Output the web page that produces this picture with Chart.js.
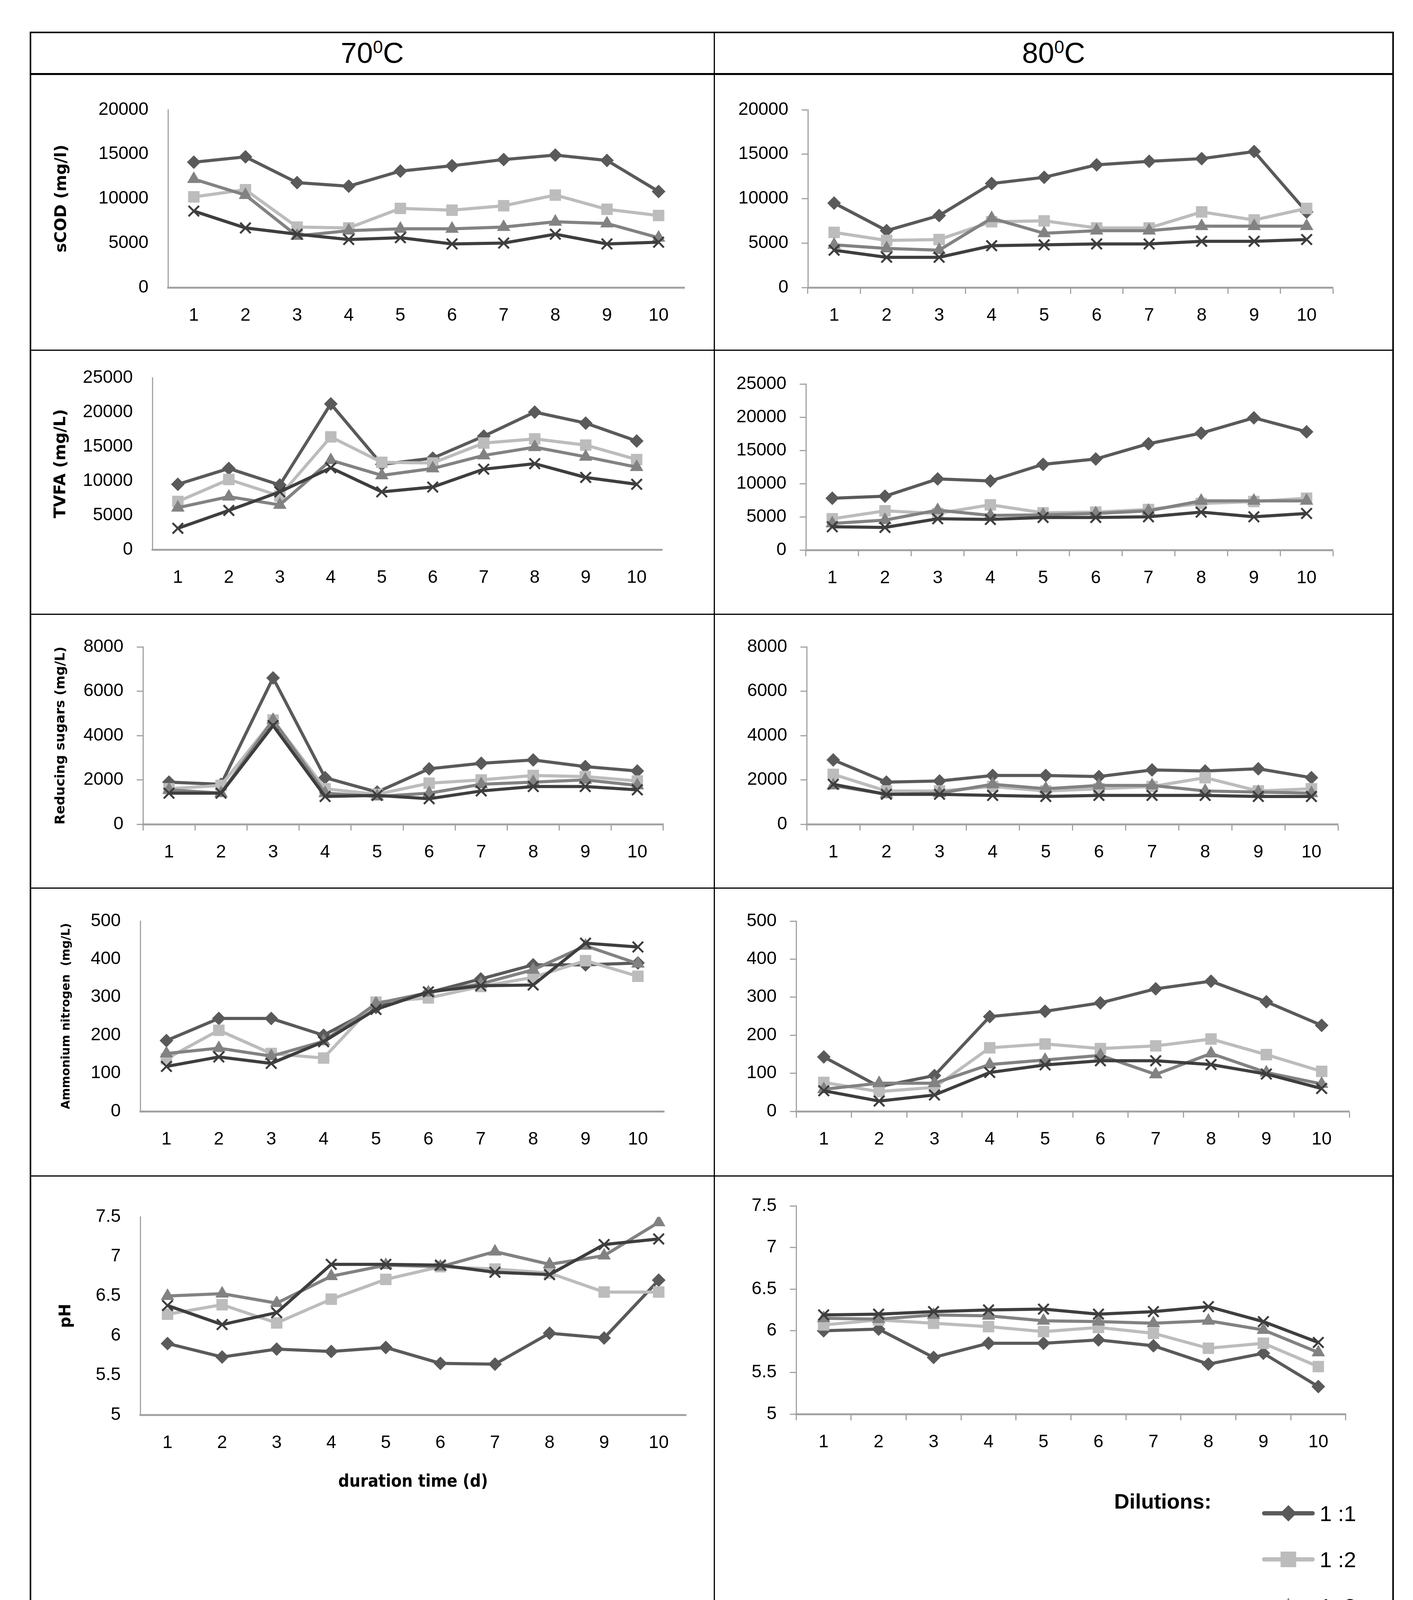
<!DOCTYPE html>
<html>
<head>
<meta charset="utf-8">
<script src="https://cdn.jsdelivr.net/npm/chart.js@4.4.1/dist/chart.umd.min.js"></script>
<style>
  html, body { margin: 0; padding: 0; background: #fff; }
  #page { position: relative; width: 3617px; height: 4337px; overflow: hidden; background: #fff; }
  .rule { position: absolute; background: #000; }
  .head {
    position: absolute; top: 83px; height: 106px; line-height: 106px;
    text-align: center; font-family: 'Liberation Sans', Arial, sans-serif; font-size: 74px; color: #000;
  }
  .head sup { font-size: 0.62em; vertical-align: 0.55em; line-height: 0; }
  canvas { position: absolute; }
  .legend-title {
    position: absolute; font-family: 'Liberation Sans', Arial, sans-serif; font-weight: bold;
    font-size: 54px; line-height: 60px; color: #000;
  }
  .legend-item { position: absolute; height: 60px; display: flex; align-items: center; }
  .legend-item span {
    font-family: 'Liberation Sans', Arial, sans-serif; font-size: 56px; color: #000; margin-left: 12px;
  }
</style>
</head>
<body>
<div id="page">
  <div class="head" style="left:78px; width:1750px;">70<sup>0</sup>C</div>
  <div class="head" style="left:1828px; width:1738px;">80<sup>0</sup>C</div>
</div>
<script>
// ---------- data ----------
const DAYS = ['1', '2', '3', '4', '5', '6', '7', '8', '9', '10']
const DILUTIONS = ['1 :1', '1 :2', '1 :3', '1 :4']

// rows: 1:1, 1:2, 1:3, 1:4
const SCOD_70 = [
  [14100, 14700, 11800, 11400, 13100, 13700, 14400, 14900, 14300, 10800],
  [10200, 11000, 6800, 6700, 8900, 8700, 9200, 10400, 8800, 8100],
  [12200, 10400, 5800, 6400, 6600, 6600, 6800, 7400, 7200, 5600],
  [8600, 6700, 6000, 5400, 5600, 4900, 5000, 6000, 4900, 5100]
]
const SCOD_80 = [
  [9500, 6400, 8100, 11700, 12400, 13800, 14200, 14500, 15300, 8500],
  [6200, 5300, 5400, 7400, 7500, 6700, 6700, 8500, 7600, 8900],
  [4800, 4400, 4200, 7800, 6100, 6400, 6400, 6900, 6900, 6900],
  [4200, 3400, 3400, 4700, 4800, 4900, 4900, 5200, 5200, 5400]
]
const TVFA_70 = [
  [9500, 11800, 9400, 21200, 12400, 13300, 16500, 20000, 18400, 15800],
  [7000, 10200, 7800, 16400, 12700, 12600, 15500, 16100, 15200, 13100],
  [6100, 7700, 6500, 13000, 10800, 11800, 13700, 14900, 13500, 12000],
  [3100, 5700, 8400, 11900, 8400, 9100, 11700, 12500, 10500, 9500]
]
const TVFA_80 = [
  [7800, 8100, 10700, 10400, 12900, 13700, 16000, 17600, 19900, 17800],
  [4700, 5900, 5500, 6800, 5600, 5700, 6100, 7000, 7300, 7800],
  [4000, 4500, 6000, 5200, 5300, 5500, 5900, 7400, 7400, 7400],
  [3500, 3400, 4700, 4600, 4900, 4900, 5000, 5700, 5000, 5500]
]
const SUGARS_70 = [
  [1900, 1800, 6600, 2100, 1450, 2500, 2750, 2900, 2600, 2400],
  [1600, 1750, 4700, 1600, 1350, 1850, 2000, 2200, 2150, 1950],
  [1550, 1400, 4700, 1400, 1250, 1400, 1800, 1900, 2000, 1750],
  [1400, 1400, 4450, 1250, 1300, 1150, 1500, 1700, 1700, 1550]
]
const SUGARS_80 = [
  [2900, 1900, 1950, 2200, 2200, 2150, 2450, 2400, 2500, 2100],
  [2250, 1500, 1500, 1700, 1500, 1600, 1700, 2100, 1500, 1600],
  [1750, 1350, 1400, 1800, 1600, 1750, 1750, 1500, 1450, 1400],
  [1800, 1350, 1350, 1300, 1250, 1300, 1300, 1300, 1250, 1250]
]
const AMMONIUM_70 = [
  [186, 244, 244, 200, 273, 312, 348, 385, 385, 390],
  [138, 213, 152, 140, 287, 298, 328, 352, 396, 355],
  [152, 166, 145, 184, 283, 312, 335, 372, 435, 388],
  [118, 143, 126, 183, 268, 314, 330, 332, 442, 432]
]
const AMMONIUM_80 = [
  [143, 65, 94, 249, 263, 285, 322, 342, 288, 226],
  [76, 52, 63, 167, 177, 165, 172, 190, 149, 105],
  [58, 74, 74, 123, 135, 147, 97, 152, 102, 72],
  [54, 27, 43, 102, 122, 133, 133, 123, 98, 60]
]
const PH_70 = [
  [5.9, 5.73, 5.83, 5.8, 5.85, 5.65, 5.64, 6.03, 5.97, 6.7],
  [6.27, 6.39, 6.16, 6.46, 6.71, 6.87, 6.84, 6.79, 6.55, 6.55],
  [6.5, 6.53, 6.41, 6.75, 6.89, 6.87, 7.06, 6.9, 7.01, 7.43],
  [6.38, 6.14, 6.29, 6.9, 6.9, 6.89, 6.8, 6.77, 7.15, 7.22]
]
const PH_80 = [
  [6.0, 6.02, 5.68, 5.85, 5.85, 5.89, 5.82, 5.6, 5.73, 5.33],
  [6.07, 6.13, 6.09, 6.05, 5.99, 6.04, 5.97, 5.79, 5.85, 5.57],
  [6.15, 6.14, 6.19, 6.18, 6.12, 6.11, 6.09, 6.12, 6.01, 5.74],
  [6.19, 6.2, 6.23, 6.25, 6.26, 6.2, 6.23, 6.29, 6.11, 5.86]
]

// ---------- styling ----------
const SERIES_COLORS = ['#5a5a5a', '#bcbcbc', '#828282', '#3e3e3e']
const POINT_STYLES = ['rectRot', 'rect', 'triangle', 'crossRot']
const POINT_RADII = [17, 20, 19, 19]
const AXIS_GRAY = '#a3a3a3'
const TICK_FONT = { family: "'Liberation Sans', Arial, sans-serif", size: 46 }
const TITLE_FAMILY = "'DejaVu Sans', Verdana, sans-serif"

const LEFT = { l: 80, r: 1826 }
const RIGHT = { l: 1830, r: 3562 }
const ROWS = [
  { t: 191, b: 894 },
  { t: 898, b: 1570 },
  { t: 1574, b: 2271 },
  { t: 2275, b: 3008 },
  { t: 3012, b: 4296 }
]

const PANELS = [
  { data: SCOD_70, col: LEFT, row: 0, min: 0, max: 20000, step: 5000, marks: false,
    area: { l: 430, t: 281, r: 1752, b: 736 }, yTitle: 'sCOD (mg/l)', yTitleSize: 41, yTitleX: 158 },
  { data: SCOD_80, col: RIGHT, row: 0, min: 0, max: 20000, step: 5000, marks: true,
    area: { l: 2068, t: 281, r: 3412, b: 736 } },
  { data: TVFA_70, col: LEFT, row: 1, min: 0, max: 25000, step: 5000, marks: false,
    area: { l: 390, t: 967, r: 1695, b: 1407 }, yTitle: 'TVFA (mg/L)', yTitleSize: 41, yTitleX: 156 },
  { data: TVFA_80, col: RIGHT, row: 1, min: 0, max: 25000, step: 5000, marks: true,
    area: { l: 2063, t: 983, r: 3412, b: 1408 } },
  { data: SUGARS_70, col: LEFT, row: 2, min: 0, max: 8000, step: 2000, marks: true,
    area: { l: 366, t: 1656, r: 1698, b: 2110 }, yTitle: 'Reducing sugars (mg/L)', yTitleSize: 34, yTitleX: 156 },
  { data: SUGARS_80, col: RIGHT, row: 2, min: 0, max: 8000, step: 2000, marks: true,
    area: { l: 2065, t: 1656, r: 3425, b: 2110 } },
  { data: AMMONIUM_70, col: LEFT, row: 3, min: 0, max: 500, step: 100, marks: false,
    area: { l: 359, t: 2358, r: 1700, b: 2845 }, yTitle: 'Ammonium nitrogen  (mg/L)', yTitleSize: 30, yTitleX: 170 },
  { data: AMMONIUM_80, col: RIGHT, row: 3, min: 0, max: 500, step: 100, marks: true,
    area: { l: 2038, t: 2358, r: 3454, b: 2845 } },
  { data: PH_70, col: LEFT, row: 4, min: 5, max: 7.5, step: 0.5, marks: false,
    area: { l: 359, t: 3115, r: 1756, b: 3622 }, yTitle: 'pH', yTitleSize: 40, yTitleX: 170,
    xTitle: 'duration time (d)', xTitleY: 3795 },
  { data: PH_80, col: RIGHT, row: 4, min: 5, max: 7.5, step: 0.5, marks: true,
    area: { l: 2038, t: 3087, r: 3445, b: 3620 } }
]

const page = document.getElementById('page')

function addRule(l, t, w, h) {
  const d = document.createElement('div')
  d.className = 'rule'
  d.style.left = l + 'px'
  d.style.top = t + 'px'
  d.style.width = w + 'px'
  d.style.height = h + 'px'
  page.appendChild(d)
}

function drawTable() {
  addRule(76, 81, 3492, 4)      // top
  addRule(76, 4298, 3492, 4)    // bottom
  addRule(76, 81, 4, 4221)      // left
  addRule(3564, 81, 4, 4221)    // right
  addRule(1827, 81, 3, 4221)    // middle
  addRule(76, 187, 3492, 5)     // header
  ;[895, 1571, 2272, 3009].forEach(y => addRule(76, y, 3492, 3))
}

function makePanel(panel) {
  const cell = { l: panel.col.l, r: panel.col.r, t: ROWS[panel.row].t, b: ROWS[panel.row].b }
  const area = panel.area
  const canvas = document.createElement('canvas')
  canvas.width = cell.r - cell.l
  canvas.height = cell.b - cell.t
  canvas.style.left = cell.l + 'px'
  canvas.style.top = cell.t + 'px'
  page.appendChild(canvas)

  const tickColor = panel.marks ? AXIS_GRAY : 'rgba(0,0,0,0)'

  const datasets = panel.data.map((values, i) => ({
    label: DILUTIONS[i],
    data: values,
    borderColor: SERIES_COLORS[i],
    backgroundColor: SERIES_COLORS[i],
    borderWidth: 8,
    pointStyle: POINT_STYLES[i],
    pointRadius: POINT_RADII[i],
    pointBackgroundColor: SERIES_COLORS[i],
    pointBorderColor: SERIES_COLORS[i],
    pointBorderWidth: i === 3 ? 5 : 1,
    tension: 0,
    order: 3 - i
  }))

  const yTitle = panel.yTitle
    ? {
        display: true,
        text: panel.yTitle,
        color: '#000',
        font: { family: TITLE_FAMILY, weight: 'bold', size: panel.yTitleSize },
        padding: { top: panel.yTitleX - cell.l - panel.yTitleSize * 0.6, bottom: 0 }
      }
    : { display: false }

  const xTitle = panel.xTitle
    ? {
        display: true,
        text: panel.xTitle,
        color: '#000',
        font: { family: "'DejaVu Sans Condensed', 'DejaVu Sans', sans-serif", weight: 'bold', size: 44 },
        padding: { top: 0, bottom: cell.b - panel.xTitleY - 44 * 0.6 }
      }
    : { display: false }

  return new Chart(canvas, {
    type: 'line',
    data: { labels: DAYS, datasets },
    options: {
      responsive: false,
      animation: false,
      devicePixelRatio: 1,
      layout: {
        padding: { top: area.t - cell.t, right: cell.r - area.r, left: 0, bottom: 0 }
      },
      plugins: {
        legend: { display: false },
        tooltip: { enabled: false }
      },
      scales: {
        x: {
          offset: true,
          grid: {
            offset: true,
            drawOnChartArea: false,
            drawTicks: true,
            tickLength: 16,
            tickWidth: 3,
            tickColor
          },
          border: { display: true, color: AXIS_GRAY, width: 5 },
          ticks: { font: TICK_FONT, color: '#000', padding: 29, maxRotation: 0, autoSkip: false },
          title: xTitle,
          afterFit: s => { s.height = cell.b - area.b }
        },
        y: {
          min: panel.min,
          max: panel.max,
          grid: {
            drawOnChartArea: false,
            drawTicks: true,
            tickLength: 16,
            tickWidth: 3,
            tickColor
          },
          border: { display: true, color: AXIS_GRAY, width: 3 },
          ticks: {
            stepSize: panel.step,
            font: TICK_FONT,
            color: '#000',
            padding: 34,
            callback: v => String(v)
          },
          title: yTitle,
          afterFit: s => { s.width = area.l - cell.l }
        }
      }
    }
  })
}

function legendIcon(i) {
  const c = SERIES_COLORS[i]
  const markers = [
    `<polygon points="68,4 89,25 68,46 47,25" fill="${c}"/>`,
    `<rect x="48" y="5" width="40" height="40" fill="${c}"/>`,
    `<polygon points="68,3 90,46 46,46" fill="${c}"/>`,
    `<line x1="50" y1="5" x2="86" y2="45" stroke="${c}" stroke-width="4"/><line x1="86" y1="5" x2="50" y2="45" stroke="${c}" stroke-width="4"/>`
  ]
  return `<svg width="136" height="50" viewBox="0 0 136 50">` +
    `<line x1="6" y1="25" x2="130" y2="25" stroke="${c}" stroke-width="11" stroke-linecap="round"/>` +
    markers[i] + `</svg>`
}

function drawLegend() {
  const title = document.createElement('div')
  title.className = 'legend-title'
  title.textContent = 'Dilutions:'
  title.style.left = '2852px'
  title.style.top = (3843 - 30) + 'px'
  page.appendChild(title)

  const centers = [3874, 3992, 4112, 4232]
  DILUTIONS.forEach((name, i) => {
    const item = document.createElement('div')
    item.className = 'legend-item'
    item.style.left = '3230px'
    item.style.top = (centers[i] - 30) + 'px'
    item.innerHTML = legendIcon(i) + `<span>${name}</span>`
    page.appendChild(item)
  })
}

drawTable()
PANELS.forEach(makePanel)
drawLegend()
</script>
</body>
</html>
